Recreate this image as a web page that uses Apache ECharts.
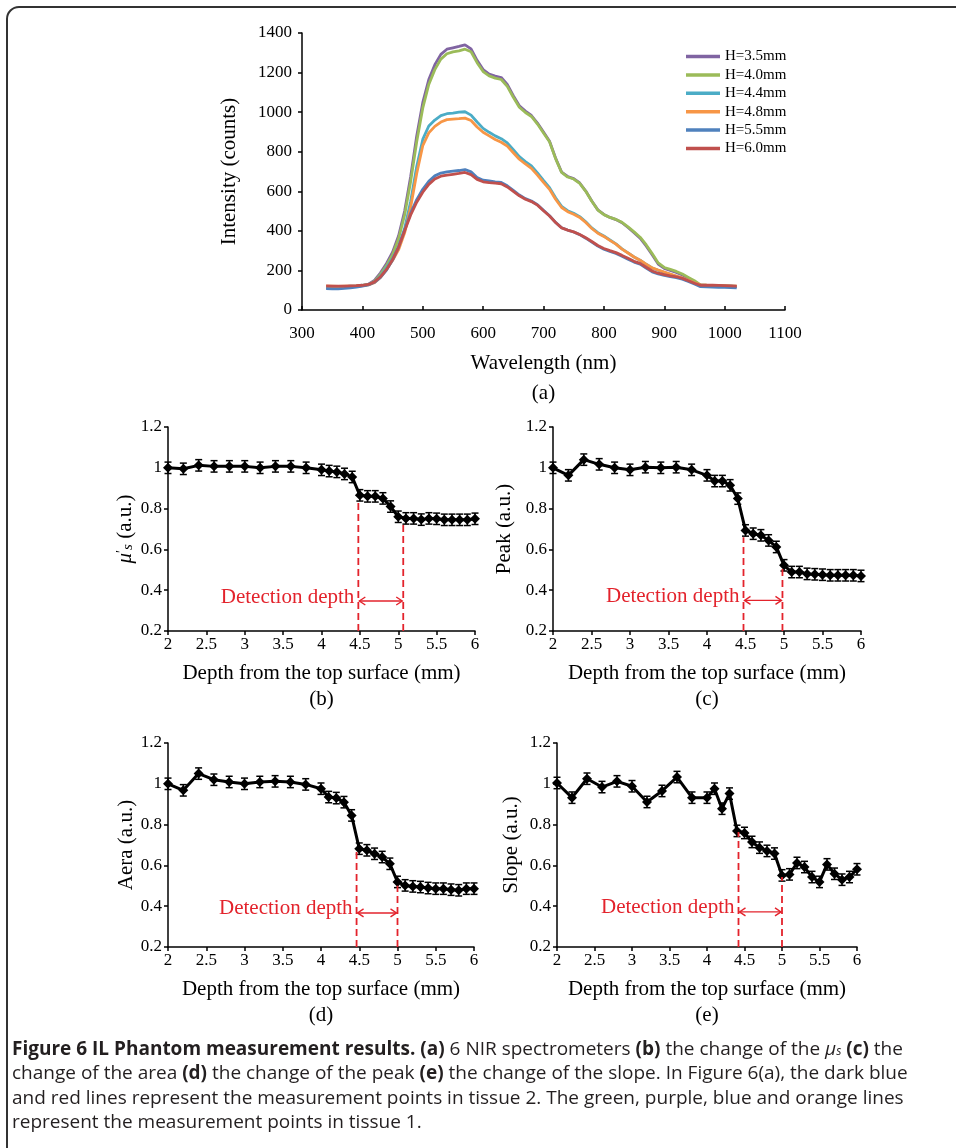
<!DOCTYPE html>
<html><head><meta charset="utf-8">
<script src="https://cdn.jsdelivr.net/npm/echarts@6/dist/echarts.min.js"></script>
<style>html,body{margin:0;padding:0;background:#fff}#c{width:956px;height:1148px}</style>
</head><body><div id="c"></div>
<script>
// ---------- (a) spectra ----------
const wavelength = [340,350,360,370,380,390,400,410,420,430,440,450,460,470,480,490,500,510,520,530,540,550,560,570,580,590,600,610,620,630,640,650,660,670,680,690,700,710,720,730,740,750,760,770,780,790,800,810,820,830,840,850,860,870,880,890,900,910,920,930,940,950,960,970,980,990,1000,1010,1020];
const h35 = [112,111,111,113,116,119,123,130,150,188,235,292,375,500,675,880,1048,1165,1240,1292,1318,1325,1332,1340,1320,1262,1215,1192,1182,1175,1140,1083,1032,1005,983,945,900,853,768,697,675,664,642,601,551,506,483,468,457,441,417,391,363,324,279,232,210,200,190,177,160,143,125,124,123,122,121,120,118];
const h40 = [118,117,116,117,119,121,124,128,145,180,225,280,360,480,650,850,1020,1140,1215,1268,1295,1305,1310,1318,1305,1250,1205,1183,1172,1165,1130,1075,1025,998,978,940,895,850,765,695,672,662,640,600,550,505,482,468,458,443,420,395,368,330,285,238,215,205,195,182,165,148,127,125,124,123,122,121,119];
const h44 = [118,117,117,118,120,122,125,129,142,172,215,262,322,412,550,725,862,930,960,982,992,995,1000,1002,985,950,918,898,880,866,845,810,775,750,728,693,655,618,567,524,502,489,472,446,415,391,374,354,334,309,289,268,252,231,212,201,190,180,170,160,148,136,125,124,123,122,121,120,119];
const h48 = [121,120,119,120,121,122,124,127,138,165,205,250,305,390,520,690,830,895,928,950,962,965,967,970,958,925,898,880,862,848,828,795,762,738,716,682,645,610,560,518,497,484,468,442,412,388,372,352,333,308,288,268,252,232,213,202,192,182,172,162,150,138,127,125,124,123,122,121,120];
const h55 = [108,107,107,109,112,116,121,127,140,165,202,252,318,405,490,558,610,650,678,692,698,702,705,710,698,670,656,652,648,645,628,605,581,563,551,532,504,476,443,416,404,394,381,363,343,323,307,296,286,272,257,242,232,212,193,182,175,169,164,156,144,131,118,117,116,115,114,113,112];
const h60 = [122,121,121,121,122,123,125,129,142,168,205,255,318,400,480,545,595,635,662,676,682,686,690,695,684,660,648,644,641,638,622,600,577,560,548,530,502,475,442,415,404,395,382,365,346,326,311,300,290,276,261,246,236,216,197,186,179,173,168,160,148,135,125,126,125,124,123,122,121];
const seriesNames = ['H=3.5mm','H=4.0mm','H=4.4mm','H=4.8mm','H=5.5mm','H=6.0mm'];
const seriesColors = ['#8064A2','#9BBB59','#4BACC6','#F79646','#4F81BD','#C0504D'];
const spectra = [h35,h40,h44,h48,h55,h60];

// ---------- (b)-(e) depth curves ----------
const depth = [2,2.2,2.4,2.6,2.8,3,3.2,3.4,3.6,3.8,4,4.1,4.2,4.3,4.4,4.5,4.6,4.7,4.8,4.9,5,5.1,5.2,5.3,5.4,5.5,5.6,5.7,5.8,5.9,6];
const muS   = [1.0,0.995,1.012,1.007,1.007,1.007,1.0,1.007,1.007,1.0,0.99,0.984,0.98,0.97,0.955,0.865,0.86,0.86,0.85,0.81,0.76,0.752,0.752,0.746,0.752,0.75,0.745,0.745,0.745,0.745,0.75];
const peak  = [1.0,0.963,1.04,1.017,1.0,0.99,1.003,1.0,1.003,0.99,0.963,0.935,0.935,0.914,0.849,0.693,0.677,0.669,0.644,0.612,0.522,0.489,0.489,0.48,0.478,0.476,0.473,0.473,0.473,0.473,0.47];
const aera  = [1.0,0.968,1.05,1.02,1.009,1.0,1.009,1.012,1.009,0.997,0.976,0.935,0.93,0.91,0.845,0.682,0.674,0.657,0.641,0.608,0.519,0.502,0.497,0.494,0.489,0.486,0.486,0.481,0.478,0.486,0.486];
const slope = [1.004,0.932,1.025,0.984,1.012,0.988,0.911,0.965,1.033,0.932,0.932,0.976,0.878,0.952,0.769,0.759,0.715,0.687,0.671,0.658,0.551,0.556,0.612,0.592,0.543,0.519,0.605,0.559,0.53,0.543,0.581];
const errBar = 0.028;
// detection depth annotation: [x1, top1, x2, top2, arrowY]
const detectB = [4.48, 0.845, 5.065, 0.735, 0.347];
const detectC = [4.474, 0.66, 4.98, 0.51, 0.35];
const detectD = [4.465, 0.666, 5.0, 0.5, 0.367];
const detectE = [4.42, 0.764, 5.0, 0.543, 0.372];
const yTitles = ["{mu|μ}{sup|′}{sub|s} (a.u.)", "Peak (a.u.)", "Aera (a.u.)", "Slope (a.u.)"];
const panelTags = ['(b)','(c)','(d)','(e)'];

const SERIF = "'Liberation Serif','Times New Roman',serif";
const SANS = "'Open Sans', sans-serif";
const TF = 17;
const chart = echarts.init(document.getElementById('c'), null, {renderer:'canvas'});

const grids = [
  {left:302, top:33, width:483, height:277},
  {left:168, top:427, width:307, height:204},
  {left:553, top:427, width:308, height:204},
  {left:168, top:743, width:306, height:204},
  {left:557, top:743, width:300, height:204}
];
const axLine = {show:true, lineStyle:{color:'#000', width:1.5}};
const xAxes = [{
  gridIndex:0, type:'value', min:300, max:1100, interval:100,
  axisLine:axLine, axisTick:{show:true, inside:true, length:4, lineStyle:{color:'#000', width:1.5}},
  splitLine:{show:false},
  axisLabel:{color:'#000', fontFamily:SERIF, fontSize:TF, margin:15, formatter: v => String(v)},
  name:'Wavelength (nm)\n(a)', nameLocation:'middle', nameGap:38,
  nameTextStyle:{color:'#000', fontFamily:SERIF, fontSize:21, lineHeight:30}
}];
const yAxes = [{
  gridIndex:0, type:'value', min:0, max:1400, interval:200,
  axisLine:axLine, axisTick:{show:true, length:4, lineStyle:{color:'#000', width:1.5}},
  splitLine:{show:false},
  axisLabel:{color:'#000', fontFamily:SERIF, fontSize:TF, margin:10, formatter: v => String(v)},
  name:'Intensity (counts)', nameLocation:'middle', nameGap:62,
  nameTextStyle:{color:'#000', fontFamily:SERIF, fontSize:21}
}];
const yGaps = [28, 38, 31, 35];
for (let k = 0; k < 4; k++) {
  xAxes.push({
    gridIndex:k+1, type:'value', min:2, max:6, interval:0.5,
    axisLine:axLine, axisTick:{show:true, length:4, lineStyle:{color:'#000', width:1.5}},
    splitLine:{show:false},
    axisLabel:{color:'#000', fontFamily:SERIF, fontSize:TF, margin:5, formatter: v => String(v)},
    name:'Depth from the top surface (mm)\n' + panelTags[k], nameLocation:'middle', nameGap:29,
    nameTextStyle:{color:'#000', fontFamily:SERIF, fontSize:21, lineHeight:26}
  });
  yAxes.push({
    gridIndex:k+1, type:'value', min:0.2, max:1.2, interval:0.2,
    axisLine:axLine, axisTick:{show:true, length:4, lineStyle:{color:'#000', width:1.5}},
    splitLine:{show:false},
    axisLabel:{color:'#000', fontFamily:SERIF, fontSize:TF, margin:6, formatter: v => String(+v.toFixed(1))},
    name:yTitles[k], nameLocation:'middle', nameGap:yGaps[k],
    nameTextStyle:{color:'#000', fontFamily:SERIF, fontSize:21,
      rich:{mu:{fontFamily:SERIF, fontSize:21, fontStyle:'italic', color:'#000'},
            sup:{fontFamily:SERIF, fontSize:14, color:'#000', verticalAlign:'top', lineHeight:14, padding:[0,0,8,0]},
            sub:{fontFamily:SERIF, fontSize:15, fontStyle:'italic', color:'#000', verticalAlign:'bottom', lineHeight:15, padding:[6,0,0,0]}}}
  });
}

const series = [];
spectra.forEach((arr, i) => {
  series.push({
    name:seriesNames[i], type:'line', xAxisIndex:0, yAxisIndex:0,
    data: wavelength.map((w, j) => [w, arr[j]]),
    showSymbol:false, symbol:'none', lineStyle:{color:seriesColors[i], width:2.8},
    itemStyle:{color:seriesColors[i]}, animation:false
  });
});

function errRender(params, api) {
  const x = api.value(0), y = api.value(1), e = api.value(2);
  const hi = api.coord([x, y + e]), lo = api.coord([x, y - e]);
  const w = 3.5, st = {stroke:'#000', lineWidth:1.5};
  return {type:'group', children:[
    {type:'line', shape:{x1:hi[0], y1:hi[1], x2:lo[0], y2:lo[1]}, style:st},
    {type:'line', shape:{x1:hi[0]-w, y1:hi[1], x2:hi[0]+w, y2:hi[1]}, style:st},
    {type:'line', shape:{x1:lo[0]-w, y1:lo[1], x2:lo[0]+w, y2:lo[1]}, style:st}
  ]};
}
const RED = '#E3232C';
function detRender(params, api) {
  const x1 = api.value(0), t1 = api.value(1), x2 = api.value(2), t2 = api.value(3), ay = api.value(4);
  const a0 = api.coord([x1, 0.2]), a1 = api.coord([x1, t1]);
  const b0 = api.coord([x2, 0.2]), b1 = api.coord([x2, t2]);
  const p = api.coord([x1, ay]), q = api.coord([x2, ay]);
  const dash = {stroke:RED, lineWidth:1.8, lineDash:[7,4]};
  const sol = {stroke:RED, lineWidth:1.4, fill:'none'};
  const h = 7, v = 4;
  return {type:'group', children:[
    {type:'line', shape:{x1:a0[0], y1:a0[1], x2:a1[0], y2:a1[1]}, style:dash},
    {type:'line', shape:{x1:b0[0], y1:b0[1], x2:b1[0], y2:b1[1]}, style:dash},
    {type:'line', shape:{x1:p[0]+1, y1:p[1], x2:q[0]-1, y2:q[1]}, style:sol},
    {type:'polyline', shape:{points:[[p[0]+h, p[1]-v],[p[0]+1, p[1]],[p[0]+h, p[1]+v]]}, style:sol},
    {type:'polyline', shape:{points:[[q[0]-h, q[1]-v],[q[0]-1, q[1]],[q[0]-h, q[1]+v]]}, style:sol},
    {type:'text', x:p[0]-4, y:p[1]-4, style:{text:'Detection depth', fill:RED, font:"21px 'Liberation Serif', serif", textAlign:'right', textVerticalAlign:'middle'}}
  ]};
}
[muS, peak, aera, slope].forEach((arr, k) => {
  series.push({
    type:'custom', xAxisIndex:k+1, yAxisIndex:k+1, renderItem:errRender,
    data: depth.map((x, j) => [x, arr[j], errBar]), z:2, animation:false, silent:true
  });
  series.push({
    type:'line', xAxisIndex:k+1, yAxisIndex:k+1,
    data: depth.map((x, j) => [x, arr[j]]),
    symbol:'diamond', symbolSize:10, showSymbol:true,
    lineStyle:{color:'#000', width:3}, itemStyle:{color:'#000'}, z:3, animation:false, silent:true
  });
  series.push({
    type:'custom', xAxisIndex:k+1, yAxisIndex:k+1, renderItem:detRender,
    data: [[detectB, detectC, detectD, detectE][k]], z:4, animation:false, silent:true
  });
});

const caption =
  "{b|Figure 6 IL Phantom measurement results.} {b|(a)} 6 NIR spectrometers {b|(b)} the change of the {mu|μ}{sub|s} {b|(c)} the\n" +
  "change of the area {b|(d)} the change of the peak {b|(e)} the change of the slope. In Figure 6(a), the dark blue\n" +
  "and red lines represent the measurement points in tissue 2. The green, purple, blue and orange lines\n" +
  "represent the measurement points in tissue 1.";
const CF = 19;

chart.setOption({
  backgroundColor:'#fff',
  animation:false,
  grid: grids,
  xAxis: xAxes,
  yAxis: yAxes,
  legend: {
    data: seriesNames, orient:'vertical', left:686, top:49, padding:0,
    itemWidth:34, itemHeight:3.5, itemGap:3.4, icon:'rect',
    textStyle:{fontFamily:SERIF, fontSize:15, color:'#000', lineHeight:15}
  },
  series: series,
  graphic: [
    {type:'rect', silent:true, shape:{x:7, y:7, width:1100, height:1300, r:12}, style:{fill:'none', stroke:'#333', lineWidth:2}},
    {type:'text', silent:true, left:12, top:1037, style:{
      text: caption, fill:'#231f20', fontFamily:SANS, fontSize:CF, lineHeight:24.5,
      rich:{
        b:{fontFamily:SANS, fontWeight:'bold', fontSize:CF, fill:'#231f20', lineHeight:24.5},
        mu:{fontFamily:SANS, fontStyle:'italic', fontSize:CF, fill:'#231f20', lineHeight:24.5},
        sub:{fontFamily:SANS, fontStyle:'italic', fontSize:12, fill:'#231f20', lineHeight:12, verticalAlign:'bottom', padding:[0,0,4,0]}
      }
    }}
  ]
});
</script></body></html>
